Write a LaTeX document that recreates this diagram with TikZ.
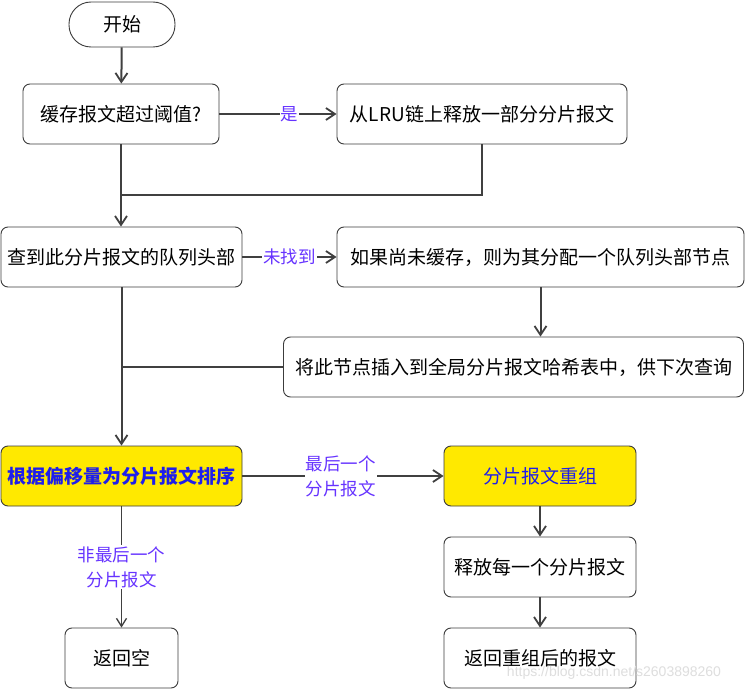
\documentclass[tikz,border=0pt]{standalone}
\usepackage{fontspec}
\setmainfont{Noto Sans CJK SC}
\newfontfamily\wmfont{Liberation Sans}
\usetikzlibrary{arrows.meta}
\definecolor{lbl}{RGB}{102,51,255}
\definecolor{txtblue}{RGB}{30,30,235}
\definecolor{yel}{RGB}{255,233,0}
\definecolor{ln}{RGB}{64,64,64}
\definecolor{bd}{RGB}{60,60,60}
\tikzset{
  box/.style={draw=bd, line width=0.9pt, rounded corners=7pt, minimum height=60pt,
    inner sep=0pt, font=\fontsize{19}{22}\selectfont, text=black},
  hl/.style={box, fill=yel, text=txtblue},
  term/.style={draw=bd, line width=0.9pt, rounded corners=22pt, minimum height=45pt,
    minimum width=106pt, inner sep=0pt, font=\fontsize{19}{22}\selectfont},
  link/.style={draw=ln, line width=2pt},
  conn/.style={link, -{Straight Barb[length=9pt,width=12pt,line width=1.8pt]}},
  thinconn/.style={draw=ln, line width=1pt, -{Straight Barb[length=8pt,width=10pt,line width=1.3pt]}},
  lab/.style={fill=white, text=lbl, inner sep=1pt, align=center,
    font=\fontsize{17.5}{25}\selectfont}
}
\begin{document}
\begin{tikzpicture}[x=1pt,y=-1pt]
\useasboundingbox (0,0) rectangle (745,690);
\fill[white] (0,0) rectangle (745,690);

\node[term] (start) at (122,24.5) {开始};
\node[box, minimum width=196pt] (q) at (121,114) {缓存报文超过阈值?};
\node[box, minimum width=290pt] (lru) at (482,114) {从LRU链上释放一部分分片报文};
\node[box, minimum width=241pt] (find) at (121.5,257) {查到此分片报文的队列头部};
\node[box, minimum width=407pt] (alloc) at (540.5,257) {如果尚未缓存，则为其分配一个队列头部节点};
\node[box, minimum width=460pt] (insert) at (513.5,367) {将此节点插入到全局分片报文哈希表中，供下次查询};
\node[hl, minimum width=241pt, font=\fontsize{19}{22}\selectfont\bfseries] (sort) at (121.5,476) {根据偏移量为分片报文排序};
\node[hl, minimum width=192pt] (reasm) at (540,476) {分片报文重组};
\node[box, minimum width=192pt] (free) at (540,567) {释放每一个分片报文};
\node[box, minimum width=192pt] (ret) at (540,658) {返回重组后的报文};
\node[box, minimum width=113pt] (null) at (121.5,658) {返回空};

\coordinate (j1) at (121,195);
\coordinate (j2) at (121,367);

\draw[conn] (start) -- (q);
\draw[conn] (q) -- node[lab, pos=0.6] {是} (lru);
\draw[link] (lru.south) |- (j1);
\draw[conn] (q.south) -- (q.south |- find.north);
\draw[conn] (find) -- node[lab] {未找到} (alloc);
\draw[conn] (alloc.south) -- (alloc.south |- insert.north);
\draw[link] (insert.west) -- (j2);
\draw[conn] (find.south) -- (find.south |- sort.north);
\draw[conn] (sort) -- node[lab, pos=0.49] {最后一个\\分片报文} (reasm);
\draw[thinconn] (sort.south) -- node[lab, pos=0.5] {非最后一个\\分片报文} (null.north);
\draw[conn] (reasm) -- (free);
\draw[conn] (free) -- (ret);

\node[text=black!13, font=\wmfont\fontsize{14}{16}\selectfont, anchor=center] (wm) at (614,673) {https://blog.csdn.net/s2603898260};
\end{tikzpicture}
\end{document}
